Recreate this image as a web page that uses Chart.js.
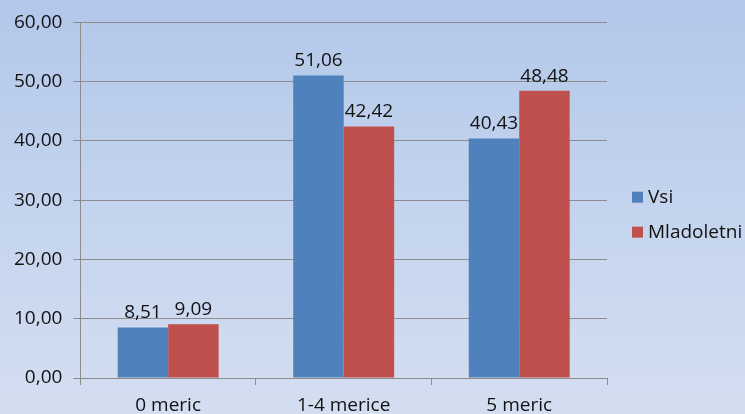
<!DOCTYPE html>
<html>
<head>
<meta charset="utf-8">
<script src="https://cdn.jsdelivr.net/npm/chart.js@4/dist/chart.umd.min.js"></script>
<style>
html,body{margin:0;padding:0;}
body{width:745px;height:414px;background:linear-gradient(to bottom,#b2c7ea 0%,#c4d4ee 50%,#d4def1 100%);overflow:hidden;}
#wrap{position:relative;width:745px;height:414px;overflow:hidden;}
canvas{display:block;}
</style>
</head>
<body>
<div id="wrap"><canvas id="c" width="745" height="414"></canvas></div>
<script>
const categories = ["0 meric", "1-4 merice", "5 meric"];
const seriesNames = ["Vsi", "Mladoletni"];
const vsi = [8.51, 51.06, 40.43];
const mladoletni = [9.09, 42.42, 48.48];
const seriesColors = ["#4f81bd", "#c0504d"];

const fmt = v => v.toFixed(2).replace('.', ',');
const FONT = "'Open Sans', 'Noto Sans', sans-serif";
const FS = 19;

const valueLabels = {
  id: 'valueLabels',
  afterDatasetsDraw(chart) {
    const ctx = chart.ctx;
    ctx.save();
    ctx.font = FS + "px " + FONT;
    ctx.fillStyle = "#111";
    ctx.textAlign = "center";
    ctx.textBaseline = "bottom";
    chart.data.datasets.forEach((ds, i) => {
      chart.getDatasetMeta(i).data.forEach((bar, j) => {
        ctx.fillText(fmt(ds.data[j]), bar.x, bar.y - 5);
      });
    });
    ctx.restore();
  }
};

// Legend drawn to the right of the plot area, items built from the datasets
const sideLegend = {
  id: 'sideLegend',
  afterDraw(chart) {
    const ctx = chart.ctx;
    const area = chart.chartArea;
    const x0 = area.right + 25;
    const midY = (area.top + area.bottom) / 2;
    const step = 35;
    const n = chart.data.datasets.length;
    ctx.save();
    ctx.font = FS + "px " + FONT;
    ctx.textBaseline = "middle";
    ctx.textAlign = "left";
    chart.data.datasets.forEach((ds, i) => {
      const cy = midY - ((n - 1) / 2) * step + i * step + 14.5;
      ctx.fillStyle = ds.backgroundColor;
      ctx.fillRect(x0, cy - 5.5, 11, 11);
      ctx.fillStyle = "#111";
      ctx.fillText(ds.label, x0 + 16, cy);
    });
    ctx.restore();
  }
};

new Chart(document.getElementById('c'), {
  type: 'bar',
  data: {
    labels: categories,
    datasets: [
      { label: seriesNames[0], data: vsi, backgroundColor: seriesColors[0] },
      { label: seriesNames[1], data: mladoletni, backgroundColor: seriesColors[1] }
    ]
  },
  options: {
    responsive: false,
    animation: false,
    devicePixelRatio: 1,
    layout: { padding: { top: 14, left: 3, right: 138, bottom: 0 } },
    datasets: { bar: { categoryPercentage: 0.575, barPercentage: 1.0 } },
    plugins: {
      legend: { display: false },
      tooltip: { enabled: false }
    },
    scales: {
      x: {
        grid: { offset: true, drawOnChartArea: false, drawTicks: true, tickLength: 7, color: '#8c8c8c' },
        border: { color: '#8c8c8c' },
        ticks: { font: { size: FS, family: FONT }, color: '#111', padding: 9 },
        afterFit: (scale) => { scale.height = 36; }
      },
      y: {
        min: 0, max: 60,
        grid: { color: '#8c8c8c', tickLength: 7 },
        border: { color: '#8c8c8c' },
        ticks: { stepSize: 10, font: { size: FS, family: FONT }, color: '#111', padding: 11,
          callback: v => fmt(v) }
      }
    }
  },
  plugins: [valueLabels, sideLegend]
});
</script>
</body>
</html>
